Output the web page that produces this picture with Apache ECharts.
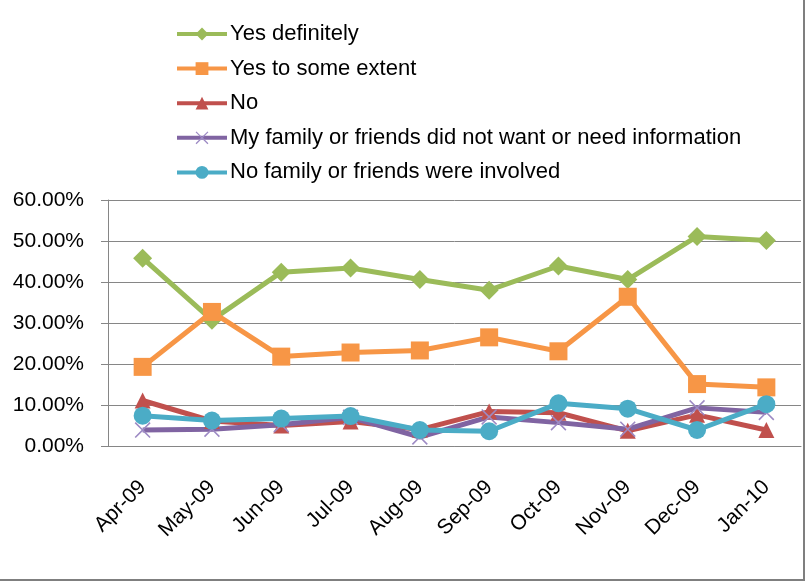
<!DOCTYPE html>
<html>
<head>
<meta charset="utf-8">
<script src="https://cdn.jsdelivr.net/npm/echarts@6/dist/echarts.min.js"></script>
<style>
  html, body { margin: 0; padding: 0; background: #fff; }
  #chart { width: 809px; height: 586px; }
</style>
</head>
<body>
<div id="chart"></div>
<script>
// months on the x axis
const months = ['Apr-09', 'May-09', 'Jun-09', 'Jul-09', 'Aug-09', 'Sep-09', 'Oct-09', 'Nov-09', 'Dec-09', 'Jan-10'];

// values in percent
const yesDefinitely = [45.8, 30.7, 42.4, 43.4, 40.6, 38.0, 43.9, 40.6, 51.1, 50.1];
const yesSomeExtent = [19.3, 32.7, 21.8, 22.8, 23.3, 26.5, 23.1, 36.4, 15.1, 14.3];
const no = [11.1, 6.1, 5.0, 6.0, 4.0, 8.4, 8.1, 3.7, 7.6, 3.9];
const notWanted = [3.9, 4.1, 5.2, 7.0, 2.2, 7.1, 5.7, 4.1, 9.3, 8.2];
const notInvolved = [7.4, 6.2, 6.7, 7.3, 3.9, 3.6, 10.4, 9.1, 3.9, 10.2];

const names = [
  'Yes definitely',
  'Yes to some extent',
  'No',
  'My family or friends did not want or need information',
  'No family or friends were involved'
];

const crossPath = 'path://M0,0.7L0.7,0L5,4.3L9.3,0L10,0.7L5.7,5L10,9.3L9.3,10L5,5.7L0.7,10L0,9.3L4.3,5Z';

const chart = echarts.init(document.getElementById('chart'));

function mkSeries(name, data, color, symbol, size, symColor) {
  return {
    name: name,
    type: 'line',
    data: data,
    symbol: symbol,
    symbolSize: size,
    showAllSymbol: true,
    lineStyle: { color: color, width: 5 },
    itemStyle: { color: symColor || color },
    emphasis: { disabled: true }
  };
}

chart.setOption({
  animation: false,
  textStyle: { fontFamily: 'Liberation Sans, sans-serif' },
  legend: {
    orient: 'vertical',
    left: 170,
    top: 18,
    itemGap: 12.6,
    itemWidth: 50,
    itemHeight: 16,
    lineStyle: { width: 4 },
    textStyle: { fontSize: 22, lineHeight: 22, color: '#000', padding: [0, 0, 0, -2] },
    data: names
  },
  grid: { left: 108, right: 8, top: 200, bottom: 140 },
  xAxis: {
    type: 'category',
    data: months,
    boundaryGap: true,
    axisLine: { lineStyle: { color: '#868686', width: 1 } },
    axisTick: { length: 6, lineStyle: { color: '#868686' } },
    axisLabel: { rotate: 45, fontSize: 21, color: '#000', margin: 38, interval: 0 }
  },
  yAxis: {
    type: 'value',
    min: 0,
    max: 60,
    interval: 10,
    axisLine: { show: true, lineStyle: { color: '#868686', width: 1 } },
    axisTick: { show: true, length: 7, lineStyle: { color: '#868686' } },
    splitLine: { lineStyle: { color: '#868686', width: 1 } },
    axisLabel: {
      fontSize: 21,
      color: '#000',
      margin: 24,
      formatter: v => v.toFixed(2) + '%'
    }
  },
  series: [
    mkSeries(names[0], yesDefinitely, '#9BBB59', 'diamond', 19),
    mkSeries(names[1], yesSomeExtent, '#F79646', 'rect', 18),
    mkSeries(names[2], no, '#C0504D', 'triangle', 16),
    mkSeries(names[3], notWanted, '#8064A2', crossPath, 16, '#9D8AC4'),
    mkSeries(names[4], notInvolved, '#4BACC6', 'circle', 18)
  ],
  graphic: [{
    type: 'rect',
    shape: { x: -2, y: -2, width: 806, height: 582 },
    style: { fill: 'none', stroke: '#7f7f7f', lineWidth: 2 },
    silent: true
  }]
});
</script>
</body>
</html>
